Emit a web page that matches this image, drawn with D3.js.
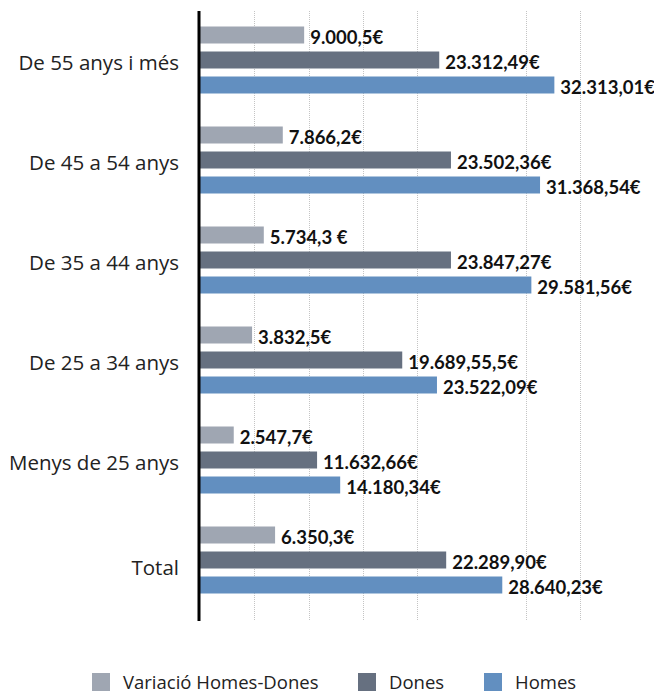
<!DOCTYPE html>
<html><head><meta charset="utf-8">
<script src="https://cdn.jsdelivr.net/npm/d3@7"></script>
<style>
html,body{margin:0;padding:0;background:#fff;}
svg{display:block;}
</style></head>
<body>
<svg id="c" width="654" height="692"></svg>
<script>
// ---- data ----
const categories = ["De 55 anys i més","De 45 a 54 anys","De 35 a 44 anys","De 25 a 34 anys","Menys de 25 anys","Total"];
const seriesNames = ["Variació Homes-Dones","Dones","Homes"];
// bar lengths as drawn in the reference (euros)
const variacio = [9600, 7630, 5880, 4800, 3110, 6920];
const dones    = [22050, 23130, 23130, 18640, 10790, 22690];
const homes    = [32660, 31340, 30540, 21840, 12920, 27860];
// value labels as printed
const variacioLabels = ["9.000,5€","7.866,2€","5.734,3 €","3.832,5€","2.547,7€","6.350,3€"];
const donesLabels    = ["23.312,49€","23.502,36€","23.847,27€","19.689,55,5€","11.632,66€","22.289,90€"];
const homesLabels    = ["32.313,01€","31.368,54€","29.581,56€","23.522,09€","14.180,34€","28.640,23€"];
const gridTicks = [5000, 10000, 15000, 20000, 30000, 35000];
const colors = ["#9fa6b2", "#667080", "#628fc0"];

const values = [variacio, dones, homes];
const labels = [variacioLabels, donesLabels, homesLabels];

const svg = d3.select("#c");
const x = d3.scaleLinear().domain([0, 40000]).range([200, 634]);
const y = d3.scaleBand().domain(categories).range([10, 610]);
const yi = d3.scaleBand().domain(seriesNames).range([0, 100]).paddingInner(0.32).paddingOuter(0.66);

// gridlines
svg.append("g").selectAll("line").data(gridTicks).join("line")
  .attr("x1", d => Math.round(x(d)) + 0.5).attr("x2", d => Math.round(x(d)) + 0.5)
  .attr("y1", 11).attr("y2", 621)
  .attr("stroke", "#c4c4c4").attr("stroke-width", 1).attr("stroke-dasharray", "1,1");

// bars
const rows = [];
categories.forEach((c, i) => seriesNames.forEach((s, j) => rows.push({c, s, j, v: values[j][i], t: labels[j][i]})));
svg.append("g").selectAll("rect").data(rows).join("rect")
  .attr("x", x(0)).attr("y", d => y(d.c) + yi(d.s))
  .attr("width", d => x(d.v) - x(0)).attr("height", yi.bandwidth())
  .attr("fill", d => colors[d.j]);

// value labels
svg.append("g").selectAll("text").data(rows).join("text")
  .attr("x", d => x(d.v) + 6).attr("y", d => y(d.c) + yi(d.s) + yi.bandwidth() + 0.5)
  .attr("font-family", "Lato, sans-serif").attr("font-weight", "bold").attr("font-size", 18.5)
  .attr("fill", "#111").text(d => d.t);

// category axis
svg.append("g").selectAll("text").data(categories).join("text")
  .attr("x", 179).attr("y", (d, i) => y(d) + y.bandwidth() / 2 + (i === categories.length - 1 ? 15 : 9.5))
  .attr("text-anchor", "end")
  .attr("font-family", "'Open Sans', sans-serif").attr("font-size", 20.5).attr("fill", "#222")
  .text(d => d);

svg.append("line").attr("x1", 199).attr("x2", 199).attr("y1", 11).attr("y2", 621)
  .attr("stroke", "#000").attr("stroke-width", 3);

// legend
const legX = [92, 358, 484];
const lg = svg.append("g").selectAll("g").data(seriesNames).join("g")
  .attr("transform", (d, i) => `translate(${legX[i]},673)`);
lg.append("rect").attr("width", 18).attr("height", 18).attr("fill", (d, i) => colors[i]);
lg.append("text").attr("x", 31).attr("y", 15.5).attr("font-family", "'Open Sans', sans-serif")
  .attr("font-size", 18.5).attr("fill", "#222").text(d => d);
</script>
</body></html>
